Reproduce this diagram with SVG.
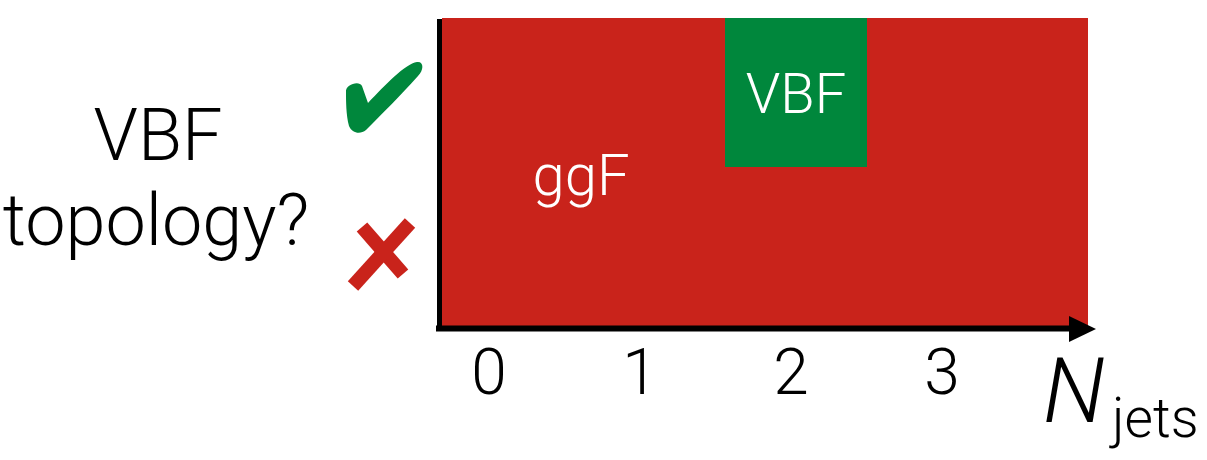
<svg xmlns="http://www.w3.org/2000/svg" width="1207" height="460" viewBox="0 0 1207 460">
<style>
text{font-family:Roboto,"Liberation Sans",Arial,sans-serif;font-weight:300}
.lbl{fill:#000;text-anchor:middle}
.w{fill:#fff;text-anchor:middle}
.ax{stroke:#000;fill:none}
</style>
<rect x="0" y="0" width="1207" height="460" fill="#fff"/>
<g id="ggF">
<rect x="442" y="18" width="646" height="308" fill="#C9231B"/>
<text class="w" x="581" y="195" font-size="58">ggF</text>
</g>
<g id="VBF">
<rect x="725" y="18" width="142" height="149" fill="#00873C"/>
<text class="w" x="796" y="113" font-size="56">VBF</text>
</g>
<g id="connectors">
<line class="ax" x1="439.5" y1="19" x2="439.5" y2="331" stroke-width="5"/>
<line class="ax" x1="436" y1="328.5" x2="1072" y2="328.5" stroke-width="6"/>
<polygon points="1069,316 1096,329 1069,342" fill="#000"/>
</g>
<g id="ylabel">
<text class="lbl" x="158" y="160" font-size="72">VBF</text>
<text class="lbl" x="156" y="245" font-size="72">topology?</text>
</g>
<g id="check">
<path d="M346,92 C345,85 359,80 362,86 L368,103 C385,85 405,64 417,62 C424,61 424,70 418,76 C400,96 381,115 366,130 C360,135 352,133 349,126 C346,115 346,100 346,92 Z" fill="#00873C"/>
</g>
<g id="cross">
<line x1="362" y1="227" x2="403" y2="274" stroke="#C9231B" stroke-width="14"/>
<line x1="410" y1="223" x2="353" y2="286" stroke="#C9231B" stroke-width="14"/>
</g>
<g id="xticks">
<text class="lbl" x="489" y="394" font-size="64">0</text>
<text class="lbl" x="640" y="394" font-size="64">1</text>
<text class="lbl" x="791" y="394" font-size="64">2</text>
<text class="lbl" x="942" y="394" font-size="64">3</text>
</g>
<g id="xlabel">
<text x="1043" y="422" font-size="90" font-style="italic" fill="#000">N</text>
<text x="1112" y="437" font-size="55" fill="#000">jets</text>
</g>
</svg>
